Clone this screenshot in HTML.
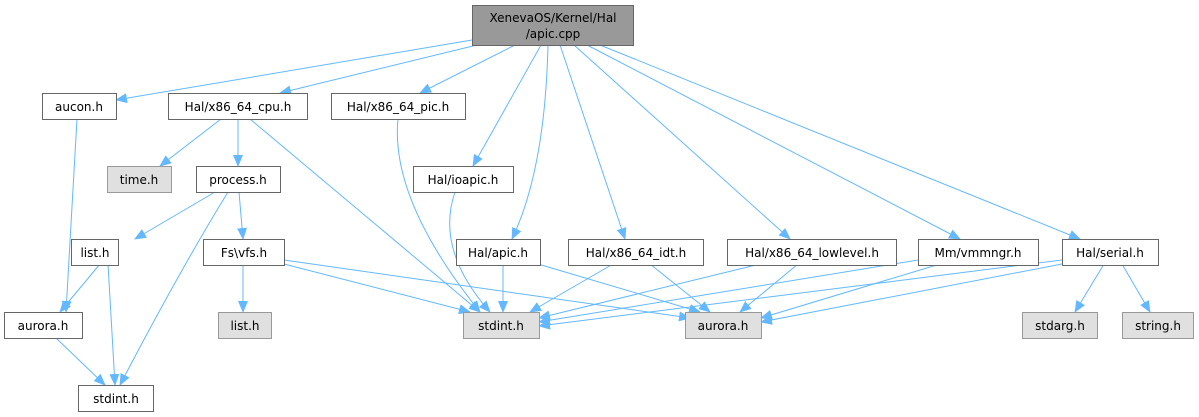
<!DOCTYPE html>
<html><head><meta charset="utf-8"><style>
html,body{margin:0;padding:0;background:#fff;}
svg{display:block;}
text{font-family:"DejaVu Sans","Liberation Sans",sans-serif;font-size:12px;fill:#000;}
</style></head><body>
<svg width="1199" height="417" viewBox="0 0 1199 417" xmlns="http://www.w3.org/2000/svg">
<defs><marker id="a" markerWidth="12" markerHeight="10" refX="11" refY="5" orient="auto" markerUnits="userSpaceOnUse"><path d="M0,0 L12,5 L0,10 z" fill="#63b8ff"/></marker></defs>
<g fill="none" stroke="#63b8ff" stroke-width="1" marker-end="url(#a)">
<path d="M472,40 L116,100"/>
<path d="M477,45 L280,93"/>
<path d="M515,45 L420,93"/>
<path d="M541,45 L473,166"/>
<path d="M548,45 Q545,170 512,239"/>
<path d="M560,45 L625,239"/>
<path d="M574,45 L790,239"/>
<path d="M587,45 L960,239"/>
<path d="M600,45 L1080,239"/>
<path d="M77,119 L66,312"/>
<path d="M221,119 L160,166"/>
<path d="M238,119 L238,166"/>
<path d="M250,119 L480,312"/>
<path d="M398,119 Q390,200 480,312"/>
<path d="M455,192 Q435,250 490,312"/>
<path d="M215,192 L135,239"/>
<path d="M239,192 L243,239"/>
<path d="M228,192 Q180,270 120,385"/>
<path d="M100,264 L60,312"/>
<path d="M108,264 L115,385"/>
<path d="M243,264 L243,312"/>
<path d="M284,264 L470,312"/>
<path d="M284,260 L690,318"/>
<path d="M503,264 L503,312"/>
<path d="M538,264 L700,312"/>
<path d="M613,264 L530,312"/>
<path d="M650,264 L710,312"/>
<path d="M760,264 L539,318"/>
<path d="M798,264 L740,312"/>
<path d="M918,260 L539,322"/>
<path d="M940,264 L761,318"/>
<path d="M1062,260 L539,326"/>
<path d="M1062,264 L761,322"/>
<path d="M1104,264 L1075,312"/>
<path d="M1122,264 L1150,312"/>
<path d="M56,338 L105,385"/>
</g>
<g stroke="#666" stroke-width="1">
<rect x="472.5" y="5.5" width="161" height="40" fill="#999"/>
<rect x="42.5" y="93.5" width="74" height="26" fill="#fff"/>
<rect x="168.5" y="93.5" width="139" height="26" fill="#fff"/>
<rect x="331.5" y="93.5" width="134" height="26" fill="#fff"/>
<rect x="107.5" y="166.5" width="64" height="26" fill="#e0e0e0" stroke="#999"/>
<rect x="196.5" y="166.5" width="84" height="26" fill="#fff"/>
<rect x="413.5" y="166.5" width="100" height="26" fill="#fff"/>
<rect x="71.5" y="239.5" width="47" height="26" fill="#fff"/>
<rect x="203.5" y="239.5" width="81" height="26" fill="#fff"/>
<rect x="456.5" y="239.5" width="84" height="26" fill="#fff"/>
<rect x="568.5" y="239.5" width="135" height="26" fill="#fff"/>
<rect x="727.5" y="239.5" width="169" height="26" fill="#fff"/>
<rect x="918.5" y="239.5" width="120" height="26" fill="#fff"/>
<rect x="1062.5" y="239.5" width="96" height="26" fill="#fff"/>
<rect x="4.5" y="312.5" width="78" height="26" fill="#fff"/>
<rect x="218.5" y="312.5" width="53" height="26" fill="#e0e0e0" stroke="#999"/>
<rect x="463.5" y="312.5" width="76" height="26" fill="#e0e0e0" stroke="#999"/>
<rect x="685.5" y="312.5" width="76" height="26" fill="#e0e0e0" stroke="#999"/>
<rect x="1022.5" y="312.5" width="75" height="26" fill="#e0e0e0" stroke="#999"/>
<rect x="1122.5" y="312.5" width="71" height="26" fill="#e0e0e0" stroke="#999"/>
<rect x="78.5" y="385.5" width="75" height="26" fill="#fff"/>
</g>
<g text-anchor="middle">
<text x="553" y="22">XenevaOS/Kernel/Hal</text>
<text x="553" y="38">/apic.cpp</text>
<text x="79" y="111">aucon.h</text>
<text x="238" y="111">Hal/x86_64_cpu.h</text>
<text x="398" y="111">Hal/x86_64_pic.h</text>
<text x="139" y="184">time.h</text>
<text x="238" y="184">process.h</text>
<text x="463" y="184">Hal/ioapic.h</text>
<text x="95" y="257">list.h</text>
<text x="244" y="257">Fs\vfs.h</text>
<text x="498" y="257">Hal/apic.h</text>
<text x="636" y="257">Hal/x86_64_idt.h</text>
<text x="812" y="257">Hal/x86_64_lowlevel.h</text>
<text x="978" y="257">Mm/vmmngr.h</text>
<text x="1110" y="257">Hal/serial.h</text>
<text x="43" y="330">aurora.h</text>
<text x="245" y="330">list.h</text>
<text x="501" y="330">stdint.h</text>
<text x="723" y="330">aurora.h</text>
<text x="1060" y="330">stdarg.h</text>
<text x="1158" y="330">string.h</text>
<text x="116" y="403">stdint.h</text>
</g>
</svg>
</body></html>
